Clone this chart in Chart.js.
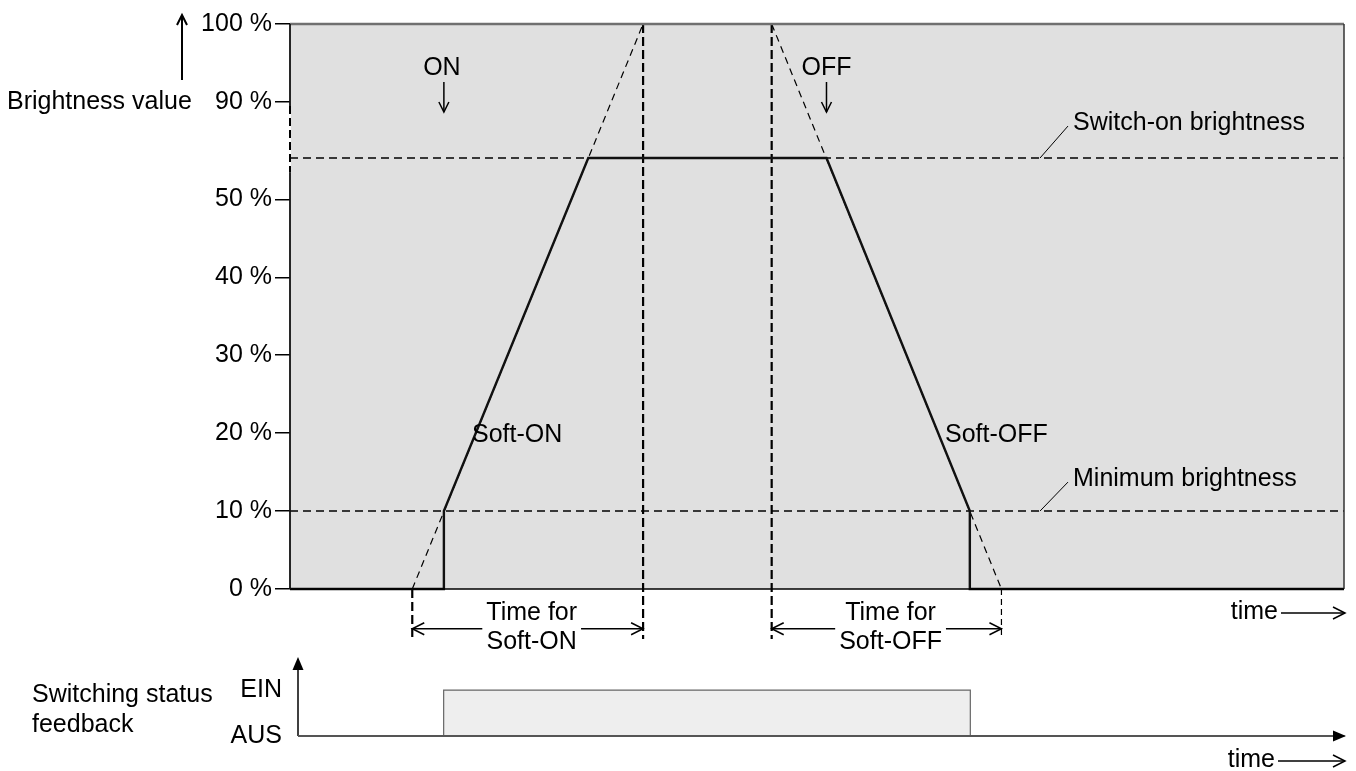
<!DOCTYPE html>
<html>
<head>
<meta charset="utf-8">
<script src="https://cdn.jsdelivr.net/npm/chart.js@4/dist/chart.umd.min.js"></script>
<style>
  html, body { margin: 0; padding: 0; background: #fff; }
  #wrap { position: relative; width: 1356px; height: 771px; }
  canvas { position: absolute; left: 0; top: 0; }
</style>
</head>
<body>
<div id="wrap">
  <canvas id="dimChart" width="1356" height="771"></canvas>
  <canvas id="statusChart" width="1356" height="771"></canvas>
</div>
<script>
// y axis units: 0..50 are real percent, above the axis break 90 % sits at 62.5 and 100 % at 72.5
const tickValues = [0, 10, 20, 30, 40, 50, 62.5, 72.5];
const tickLabels = ['0 %', '10 %', '20 %', '30 %', '40 %', '50 %', '90 %', '100 %'];
const topLevel = 72.5;
const breakFrom = 53.4;

// time axis 0..100
const curveX = [0, 14.6, 14.6, 28.3, 50.9, 64.5, 64.5, 100];
const curveY = [0, 0, 10, 55.3, 55.3, 10, 0, 0];
const switchOnLevel = 55.3;
const minLevel = 10;
const softOnX = [11.6, 33.5];
const softOffX = [45.7, 67.5];
const dimLevel = -5.1;
const markBottom = -6.4;

// switching status feedback
const statusX = [0.8, 14.6, 14.6, 64.5, 64.5, 100];
const statusY = [0, 0, 1, 1, 0, 0];
const statusTicks = [0, 1];
const statusLabels = ['AUS', 'EIN'];

const FONT = '"Liberation Sans", Arial, Helvetica, sans-serif';
Chart.defaults.font.family = FONT;
Chart.defaults.font.size = 25;
Chart.defaults.color = '#000';

const pts = (xs, ys) => xs.map((x, i) => ({ x: x, y: ys[i] }));
const line = (data, extra) => Object.assign({
  data: data, showLine: true, pointRadius: 0, borderColor: '#000',
  borderWidth: 1, fill: false, clip: false, tension: 0
}, extra);

function txt(ctx, s, x, y, align) {
  ctx.textAlign = align || 'left';
  ctx.textBaseline = 'middle';
  ctx.fillText(s, x, y);
}

// open arrow head at tip, pointing along (dx, dy)
function openHead(ctx, x, y, dx, dy, len, half) {
  const nx = -dy, ny = dx;
  ctx.beginPath();
  ctx.moveTo(x - dx * len + nx * half, y - dy * len + ny * half);
  ctx.lineTo(x, y);
  ctx.lineTo(x - dx * len - nx * half, y - dy * len - ny * half);
  ctx.stroke();
}

function filledHead(ctx, x, y, dx, dy, len, half) {
  const nx = -dy, ny = dx;
  ctx.beginPath();
  ctx.moveTo(x, y);
  ctx.lineTo(x - dx * len + nx * half, y - dy * len + ny * half);
  ctx.lineTo(x - dx * len - nx * half, y - dy * len - ny * half);
  ctx.closePath();
  ctx.fill();
}

function arrow(ctx, x1, y1, x2, y2, len, half) {
  ctx.beginPath();
  ctx.moveTo(x1, y1);
  ctx.lineTo(x2, y2);
  ctx.stroke();
  const d = Math.hypot(x2 - x1, y2 - y1);
  openHead(ctx, x2, y2, (x2 - x1) / d, (y2 - y1) / d, len, half);
}

// dimension line with text in the gap
function dim(ctx, x1, x2, y, lines) {
  const cx = (x1 + x2) / 2 + 4;
  const w = Math.max.apply(null, lines.map(l => ctx.measureText(l).width));
  const g1 = cx - w / 2 - 4, g2 = cx + w / 2 + 4;
  ctx.lineWidth = 1.5;
  ctx.beginPath();
  ctx.moveTo(x1, y); ctx.lineTo(g1, y);
  ctx.moveTo(g2, y); ctx.lineTo(x2, y);
  ctx.stroke();
  openHead(ctx, x1, y, -1, 0, 12, 6);
  openHead(ctx, x2, y, 1, 0, 12, 6);
  txt(ctx, lines[0], cx, y - 16, 'center');
  txt(ctx, lines[1], cx, y + 13, 'center');
}

const dimDecor = {
  id: 'dimDecor',
  beforeDraw(chart) {
    const a = chart.chartArea, ctx = chart.ctx;
    ctx.save();
    ctx.fillStyle = '#e0e0e0';
    ctx.fillRect(a.left, a.top, a.right - a.left, a.bottom - a.top);
    ctx.restore();
  },
  afterDraw(chart) {
    const a = chart.chartArea, ctx = chart.ctx;
    const xs = chart.scales.x, ys = chart.scales.y;
    ctx.save();
    // frame
    ctx.strokeStyle = '#707070'; ctx.lineWidth = 2.5;
    ctx.beginPath(); ctx.moveTo(a.left, a.top); ctx.lineTo(a.right, a.top); ctx.stroke();
    ctx.strokeStyle = '#333'; ctx.lineWidth = 1.5;
    ctx.beginPath(); ctx.moveTo(a.right, a.top); ctx.lineTo(a.right, a.bottom); ctx.stroke();
    ctx.strokeStyle = '#000'; ctx.lineWidth = 1.5;
    ctx.beginPath(); ctx.moveTo(a.left, a.bottom); ctx.lineTo(a.right, a.bottom); ctx.stroke();
    // left axis with break
    const b1 = ys.getPixelForValue(tickValues[6]) + 4, b2 = ys.getPixelForValue(breakFrom);
    ctx.strokeStyle = '#111'; ctx.lineWidth = 1.8;
    ctx.beginPath();
    ctx.moveTo(a.left, a.top); ctx.lineTo(a.left, b1);
    ctx.moveTo(a.left, b2); ctx.lineTo(a.left, a.bottom);
    ctx.stroke();
    ctx.strokeStyle = '#fff'; ctx.lineWidth = 2;
    ctx.beginPath(); ctx.moveTo(a.left, b1); ctx.lineTo(a.left, b2); ctx.stroke();
    ctx.strokeStyle = '#000'; ctx.setLineDash([8, 4]);
    ctx.beginPath(); ctx.moveTo(a.left, b1); ctx.lineTo(a.left, b2); ctx.stroke();
    ctx.setLineDash([]);

    ctx.fillStyle = '#000'; ctx.strokeStyle = '#000'; ctx.lineWidth = 1.5;
    ctx.font = '25px ' + FONT;
    // axis caption
    txt(ctx, 'Brightness value', 7, ys.getPixelForValue(tickValues[6]), 'left');
    ctx.lineWidth = 2;
    arrow(ctx, 182, 80, 182, 15, 10, 5);
    ctx.lineWidth = 1.5;

    // ON / OFF commands
    const xOn = xs.getPixelForValue(curveX[2]);
    const xOff = xs.getPixelForValue(curveX[4]);
    txt(ctx, 'ON', xOn - 2, a.top + 44, 'center');
    arrow(ctx, xOn, a.top + 58, xOn, a.top + 88, 10, 5);
    txt(ctx, 'OFF', xOff, a.top + 44, 'center');
    arrow(ctx, xOff, a.top + 58, xOff, a.top + 88, 10, 5);

    // ramp labels
    txt(ctx, 'Soft-ON', 472, ys.getPixelForValue(20) + 2, 'left');
    txt(ctx, 'Soft-OFF', 945, ys.getPixelForValue(20) + 2, 'left');

    // level labels with leaders
    ctx.lineWidth = 1;
    const lx = 1040;
    const ySw = ys.getPixelForValue(switchOnLevel), yMin = ys.getPixelForValue(minLevel);
    ctx.beginPath(); ctx.moveTo(lx, ySw); ctx.lineTo(lx + 28, ySw - 32); ctx.stroke();
    txt(ctx, 'Switch-on brightness', 1073, ySw - 35, 'left');
    ctx.beginPath(); ctx.moveTo(lx, yMin); ctx.lineTo(lx + 28, yMin - 29); ctx.stroke();
    txt(ctx, 'Minimum brightness', 1073, yMin - 32, 'left');

    // time dimensions
    const yd = ys.getPixelForValue(dimLevel);
    dim(ctx, xs.getPixelForValue(softOnX[0]), xs.getPixelForValue(softOnX[1]), yd, ['Time for', 'Soft-ON']);
    dim(ctx, xs.getPixelForValue(softOffX[0]), xs.getPixelForValue(softOffX[1]), yd, ['Time for', 'Soft-OFF']);

    // time arrow
    ctx.lineWidth = 1.5;
    txt(ctx, 'time', 1278, a.bottom + 23, 'right');
    arrow(ctx, 1281, a.bottom + 24, 1345, a.bottom + 24, 12, 6);
    ctx.restore();
  }
};

new Chart(document.getElementById('dimChart'), {
  type: 'scatter',
  data: {
    datasets: [
      line(pts(curveX, curveY), { borderColor: '#111', borderWidth: 2.4 }),
      line(pts([0, 100], [switchOnLevel, switchOnLevel]), { borderDash: [8, 5], borderWidth: 1.4 }),
      line(pts([0, 100], [minLevel, minLevel]), { borderDash: [8, 5], borderWidth: 1.4 }),
      line(pts(softOnX, [0, topLevel]), { borderDash: [7, 5], borderWidth: 1.2 }),
      line(pts(softOffX, [topLevel, 0]), { borderDash: [7, 5], borderWidth: 1.2 }),
      line(pts([softOnX[1], softOnX[1]], [topLevel, markBottom]), { borderDash: [9, 4], borderWidth: 2.2 }),
      line(pts([softOffX[0], softOffX[0]], [topLevel, markBottom]), { borderDash: [9, 4], borderWidth: 2.2 }),
      line(pts([softOnX[0], softOnX[0]], [0, markBottom]), { borderDash: [9, 4], borderWidth: 2.2 }),
      line(pts([softOffX[1], softOffX[1]], [0, markBottom]), { borderDash: [6, 4], borderWidth: 1.2 })
    ]
  },
  options: {
    responsive: false,
    animation: false,
    events: [],
    layout: { padding: { left: 0, top: 24, right: 12, bottom: 182 } },
    plugins: { legend: { display: false }, tooltip: { enabled: false } },
    scales: {
      x: { type: 'linear', min: 0, max: 100, display: false },
      y: {
        min: 0, max: topLevel,
        afterBuildTicks: s => { s.ticks = tickValues.map(v => ({ value: v })); },
        afterFit: s => { s.width = 290; },
        ticks: {
          autoSkip: false, padding: 3, color: '#000', font: { size: 25 },
          callback: v => tickLabels[tickValues.indexOf(v)]
        },
        grid: { drawOnChartArea: false, drawTicks: true, tickLength: 15, color: '#000', lineWidth: 1.5 },
        border: { display: false }
      }
    }
  },
  plugins: [dimDecor]
});

const statusDecor = {
  id: 'statusDecor',
  afterDraw(chart) {
    const a = chart.chartArea, ctx = chart.ctx;
    ctx.save();
    ctx.fillStyle = '#000'; ctx.strokeStyle = '#000';
    // axes
    ctx.lineWidth = 1.5;
    ctx.beginPath(); ctx.moveTo(a.left, a.bottom); ctx.lineTo(a.left, a.top + 10); ctx.stroke();
    filledHead(ctx, a.left, a.top, 0, -1, 13, 5.5);
    ctx.strokeStyle = '#555'; ctx.lineWidth = 2;
    ctx.beginPath(); ctx.moveTo(a.left, a.bottom); ctx.lineTo(a.right - 10, a.bottom); ctx.stroke();
    filledHead(ctx, a.right + 1, a.bottom, 1, 0, 13, 5.5);
    // captions
    ctx.font = '25px ' + FONT;
    txt(ctx, 'Switching status', 32, 695, 'left');
    txt(ctx, 'feedback', 32, 725, 'left');
    ctx.strokeStyle = '#000'; ctx.lineWidth = 1.5;
    txt(ctx, 'time', 1275, 760, 'right');
    arrow(ctx, 1278, 761, 1345, 761, 12, 6);
    ctx.restore();
  }
};

new Chart(document.getElementById('statusChart'), {
  type: 'scatter',
  data: {
    datasets: [
      line(pts(statusX, statusY), {
        borderColor: '#666', borderWidth: 1.2, fill: 'origin', backgroundColor: '#eeeeee'
      })
    ]
  },
  options: {
    responsive: false,
    animation: false,
    events: [],
    layout: { padding: { left: 0, top: 657, right: 11, bottom: 35 } },
    plugins: { legend: { display: false }, tooltip: { enabled: false } },
    scales: {
      x: { type: 'linear', min: 0.8, max: 100, display: false },
      y: {
        min: 0, max: 1.72,
        afterBuildTicks: s => { s.ticks = statusTicks.map(v => ({ value: v })); },
        afterFit: s => { s.width = 298; },
        ticks: {
          autoSkip: false, padding: 16, color: '#000', font: { size: 25 },
          callback: v => statusLabels[statusTicks.indexOf(v)]
        },
        grid: { display: false, drawTicks: false },
        border: { display: false }
      }
    }
  },
  plugins: [statusDecor]
});
</script>
</body>
</html>
